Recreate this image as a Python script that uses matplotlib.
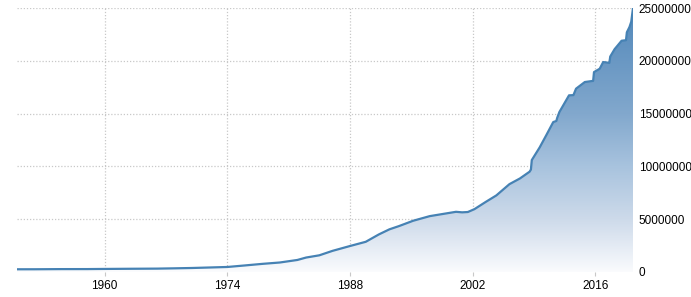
import numpy as np
import matplotlib
matplotlib.use("Agg")
import matplotlib.pyplot as plt
from matplotlib.colors import LinearSegmentedColormap
from matplotlib.patches import Polygon

# Data (millions)
years = [1950.0, 1952, 1955, 1958, 1960, 1963, 1966, 1968, 1970, 1972, 1974,
         1976, 1978, 1980, 1982, 1983, 1984.5, 1986, 1988, 1989.8, 1991.3,
         1992.5, 1993.6, 1995.2, 1997.1, 1999.0, 2000.1, 2000.8, 2001.45,
         2002.2, 2003.5, 2004.7, 2006.2, 2007.4, 2008.5, 2008.65, 2008.75,
         2009.65, 2010.4, 2011.2, 2011.55, 2011.65, 2011.9, 2013.0, 2013.5,
         2013.8, 2014.8, 2015.75, 2015.85, 2016.5, 2016.9, 2017.2, 2017.6,
         2017.7, 2018.2, 2019.0, 2019.5, 2019.6, 2019.9, 2020.1, 2020.3]
values = [257000, 259000, 274000, 276000, 290000, 306000, 320000, 348000,
          380000, 427000, 475000, 620000, 770000, 900000, 1140000, 1370000,
          1580000, 2000000, 2460000, 2860000, 3560000, 4040000, 4350000,
          4850000, 5290000, 5550000, 5700000, 5650000, 5680000, 5950000,
          6640000, 7250000, 8320000, 8860000, 9500000, 9700000, 10600000,
          11800000, 12950000, 14200000, 14300000, 14600000, 15150000,
          16730000, 16750000, 17360000, 17990000, 18100000, 18930000,
          19250000, 19880000, 19850000, 19800000, 20400000, 21100000,
          21900000, 21950000, 22700000, 23200000, 23700000, 25000000]
xticks = [1960, 1974, 1988, 2002, 2016]
yticks = [0, 5000000, 10000000, 15000000, 20000000, 25000000]

fig = plt.figure(figsize=(6.91, 2.97), dpi=100)
ax = fig.add_axes([17/691, 25/297, (633-17)/691, (272-8)/297])

x = np.array(years, dtype=float)
y = np.array(values, dtype=float)
x0, x1 = x[0], x[-1]
ymax = yticks[-1]

# gradient fill clipped to area under the line
cmap = LinearSegmentedColormap.from_list(
    "grad", [(0.0, (250/255, 251/255, 253/255)),
             (0.2, (205/255, 218/255, 234/255)),
             (0.4, (168/255, 195/255, 222/255)),
             (0.6, (130/255, 168/255, 205/255)),
             (1.0, (82/255, 136/255, 186/255))])
grad = np.linspace(0, 1, 256).reshape(-1, 1)
im = ax.imshow(grad, aspect="auto", cmap=cmap, origin="lower",
               extent=[x0, x1, 0, ymax], zorder=1)
verts = np.vstack([np.column_stack([x, y]), [[x1, 0], [x0, 0]]])
poly = Polygon(verts, closed=True, transform=ax.transData,
               facecolor="none", edgecolor="none")
ax.add_patch(poly)
im.set_clip_path(poly)

ax.plot(x, y, color="#4682B4", lw=1.6, zorder=3, solid_joinstyle="round")

ax.set_xlim(x0, x1)
ax.set_ylim(0, ymax)
ax.set_xticks(xticks)
ax.set_xticklabels([str(t) for t in xticks])
ax.set_yticks(yticks)
ax.set_yticklabels([str(t) for t in yticks])
ax.yaxis.tick_right()
for s in ax.spines.values():
    s.set_visible(False)
ax.grid(True, color="#c8c8c8", linestyle=(0, (1, 1.5)), linewidth=0.9, zorder=0)
ax.set_axisbelow(True)
ax.tick_params(axis="x", length=3, color="#c8c8c8", pad=3,
               labelsize=8.5, labelcolor="#000000")
ax.tick_params(axis="y", length=0, pad=4, labelsize=8.5, labelcolor="#000000")
for lbl in ax.get_xticklabels() + ax.get_yticklabels():
    lbl.set_family("Liberation Sans")

fig.savefig("out.png", dpi=100)
